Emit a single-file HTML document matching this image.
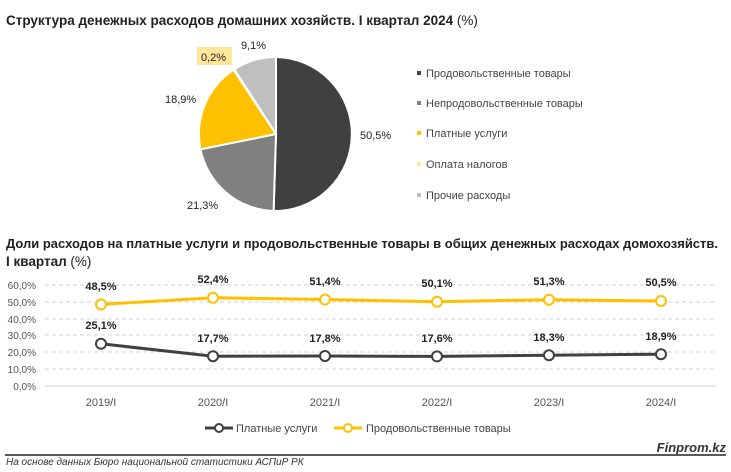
<!DOCTYPE html>
<html><head><meta charset="utf-8"><style>
body{margin:0;background:#fff;}
svg{display:block;font-family:"Liberation Sans",sans-serif;}
</style></head><body>
<svg width="731" height="472" viewBox="0 0 731 472">
<text x="6" y="25" font-size="13.5" font-weight="bold" fill="#222">Структура денежных расходов домашних хозяйств. I квартал 2024 <tspan font-weight="normal">(%)</tspan></text>
<g stroke="#fff" stroke-width="2">
<path d="M276,134 L276,57 A77,77 0 0 1 273.6,211 Z" fill="#404040"/>
<path d="M276,134 L273.6,211 A77,77 0 0 1 200.5,149.3 Z" fill="#808080"/>
<path d="M276,134 L200.5,149.3 A77,77 0 0 1 233.5,69.8 Z" fill="#FFC000"/>
<path d="M276,134 L233.5,69.8 A77,77 0 0 1 234.3,69.3 Z" fill="#FFE699"/>
<path d="M276,134 L234.3,69.3 A77,77 0 0 1 276,57 Z" fill="#BFBFBF"/>
</g>
<g font-size="11" fill="#222">
<text x="241" y="49">9,1%</text>
<rect x="197" y="47" width="35" height="18" fill="#FFE699"/>
<text x="201" y="61">0,2%</text>
<text x="165" y="103">18,9%</text>
<text x="360" y="139">50,5%</text>
<text x="187" y="209">21,3%</text>
</g>
<g font-size="11" fill="#444">
<rect x="417" y="71" width="4" height="4" fill="#404040"/><text x="426" y="77">Продовольственные товары</text>
<rect x="417" y="101" width="4" height="4" fill="#808080"/><text x="426" y="107">Непродовольственные товары</text>
<rect x="417" y="131" width="4" height="4" fill="#FFC000"/><text x="426" y="137">Платные услуги</text>
<rect x="417" y="162" width="4" height="4" fill="#FFE699"/><text x="426" y="168">Оплата налогов</text>
<rect x="417" y="193" width="4" height="4" fill="#BFBFBF"/><text x="426" y="199">Прочие расходы</text>
</g>
<text x="6" y="248" font-size="13" font-weight="bold" fill="#222" textLength="712" lengthAdjust="spacingAndGlyphs">Доли расходов на платные услуги и продовольственные товары в общих денежных расходах домохозяйств.</text>
<text x="6" y="266" font-size="13.5" font-weight="bold" fill="#222">I квартал <tspan font-weight="normal">(%)</tspan></text>
<g stroke="#d0d0d0" stroke-dasharray="4,3">
<line x1="45" y1="285" x2="716" y2="285"/><line x1="45" y1="302" x2="716" y2="302"/>
<line x1="45" y1="319" x2="716" y2="319"/><line x1="45" y1="335" x2="716" y2="335"/>
<line x1="45" y1="352" x2="716" y2="352"/><line x1="45" y1="369" x2="716" y2="369"/>
</g>
<line x1="45" y1="386" x2="716" y2="386" stroke="#d0d0d0"/>
<g font-size="10" fill="#555" text-anchor="end">
<text x="36" y="289">60,0%</text><text x="36" y="306">50,0%</text><text x="36" y="323">40,0%</text>
<text x="36" y="339">30,0%</text><text x="36" y="356">20,0%</text><text x="36" y="373">10,0%</text><text x="36" y="390">0,0%</text>
</g>
<g font-size="11" fill="#555" text-anchor="middle">
<text x="101" y="406">2019/I</text><text x="213" y="406">2020/I</text><text x="325" y="406">2021/I</text>
<text x="437" y="406">2022/I</text><text x="549" y="406">2023/I</text><text x="661" y="406">2024/I</text>
</g>
<polyline points="101,304.4 213,297.8 325,299.5 437,301.7 549,299.7 661,301" fill="none" stroke="#FFC000" stroke-width="3"/>
<polyline points="101,343.8 213,356.2 325,356 437,356.4 549,355.2 661,354.2" fill="none" stroke="#404040" stroke-width="3"/>
<g fill="#fff" stroke="#FFC000" stroke-width="2">
<circle cx="101" cy="304.4" r="5"/><circle cx="213" cy="297.8" r="5"/><circle cx="325" cy="299.5" r="5"/>
<circle cx="437" cy="301.7" r="5"/><circle cx="549" cy="299.7" r="5"/><circle cx="661" cy="301" r="5"/>
</g>
<g fill="#fff" stroke="#404040" stroke-width="2">
<circle cx="101" cy="343.8" r="5"/><circle cx="213" cy="356.2" r="5"/><circle cx="325" cy="356" r="5"/>
<circle cx="437" cy="356.4" r="5"/><circle cx="549" cy="355.2" r="5"/><circle cx="661" cy="354.2" r="5"/>
</g>
<g font-size="11" font-weight="bold" fill="#222" text-anchor="middle">
<text x="101" y="290">48,5%</text><text x="213" y="283">52,4%</text><text x="325" y="285">51,4%</text>
<text x="437" y="287">50,1%</text><text x="549" y="285">51,3%</text><text x="661" y="286">50,5%</text>
<text x="101" y="329">25,1%</text><text x="213" y="342">17,7%</text><text x="325" y="342">17,8%</text>
<text x="437" y="342">17,6%</text><text x="549" y="341">18,3%</text><text x="661" y="340">18,9%</text>
</g>
<line x1="205" y1="428" x2="233" y2="428" stroke="#404040" stroke-width="3"/>
<circle cx="219" cy="428" r="4" fill="#fff" stroke="#404040" stroke-width="2"/>
<text x="236" y="432" font-size="11" fill="#444">Платные услуги</text>
<line x1="334" y1="428" x2="362" y2="428" stroke="#FFC000" stroke-width="3"/>
<circle cx="348" cy="428" r="4" fill="#fff" stroke="#FFC000" stroke-width="2"/>
<text x="366" y="432" font-size="11" fill="#444">Продовольственные товары</text>
<line x1="5" y1="455" x2="726" y2="455" stroke="#595959" stroke-width="2"/>
<text x="6" y="465" font-size="10" font-style="italic" fill="#333">На основе данных Бюро национальной статистики АСПиР РК</text>
<text x="726" y="452" font-size="13" font-style="italic" font-weight="bold" fill="#333" text-anchor="end">Finprom.kz</text>
</svg>
</body></html>
